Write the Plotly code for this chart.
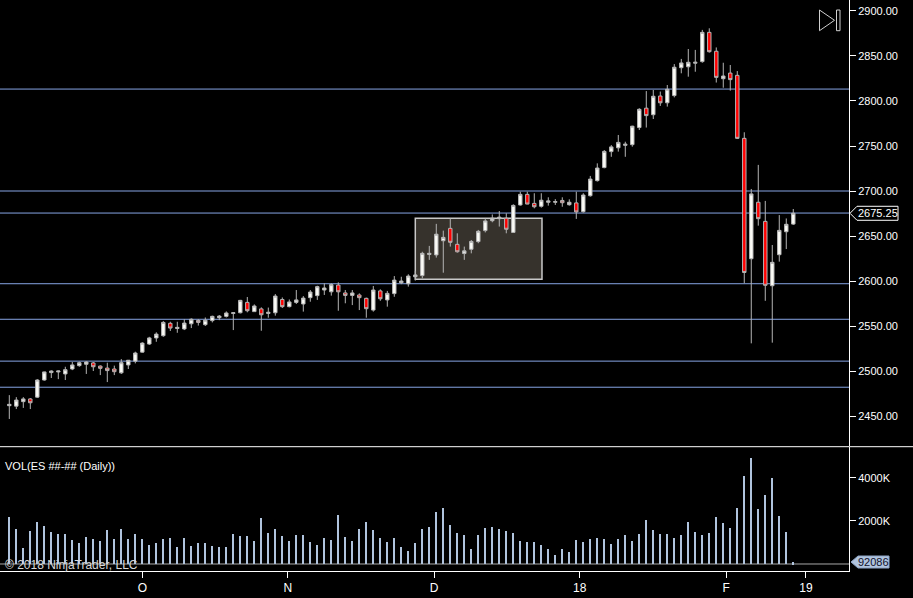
import plotly.graph_objects as go

# ES daily bars, Sep 2017 - Feb 2018
opens = [
    2461.5, 2461.0, 2466.0, 2469.0, 2471.0, 2490.0, 2498.25, 2499.0, 2496.75, 2502.25,
    2506.0, 2507.5, 2509.0, 2505.5, 2503.25, 2502.25, 2498.0, 2506.75, 2511.0, 2521.0,
    2530.0, 2536.75, 2539.25, 2553.0, 2547.25, 2546.75, 2552.5, 2556.25, 2551.5, 2556.0,
    2559.25, 2560.75, 2564.0, 2564.75, 2576.25, 2566.0, 2569.0, 2564.0, 2564.75, 2579.5,
    2571.5, 2576.25, 2574.5, 2581.5, 2583.75, 2590.0, 2588.0, 2595.5, 2586.75, 2584.0,
    2584.5, 2580.75, 2567.75, 2589.0, 2579.0, 2586.0, 2598.0, 2597.0, 2604.75, 2606.0,
    2629.5, 2629.0, 2644.75, 2658.5, 2640.75, 2630.5, 2635.25, 2643.75, 2656.0, 2667.0,
    2669.25, 2669.75, 2654.0, 2684.5, 2696.25, 2686.25, 2683.0, 2687.5, 2687.5, 2689.5,
    2684.75, 2686.75, 2677.0, 2694.75, 2711.5, 2726.0, 2743.75, 2748.0, 2750.75, 2751.5,
    2770.5, 2792.0, 2784.75, 2805.5, 2798.0, 2806.0, 2837.0, 2838.0, 2842.0, 2843.75,
    2876.25, 2855.25, 2824.75, 2831.0, 2828.5, 2758.5, 2624.75, 2687.5, 2666.25, 2594.75,
    2629.25, 2654.75, 2663.25,
]
highs = [
    2473.25, 2471.0, 2471.0, 2470.0, 2491.0, 2499.25, 2500.75, 2500.5, 2504.75, 2510.0,
    2510.5, 2511.0, 2510.0, 2506.25, 2509.25, 2506.0, 2513.25, 2512.25, 2521.5, 2532.0,
    2538.0, 2543.0, 2555.5, 2554.75, 2554.75, 2557.5, 2558.5, 2557.75, 2559.5, 2561.5,
    2562.25, 2566.25, 2565.5, 2579.0, 2582.25, 2574.0, 2570.75, 2570.5, 2585.5, 2581.75,
    2579.5, 2590.0, 2583.25, 2590.0, 2594.75, 2597.5, 2597.5, 2598.5, 2590.0, 2590.0,
    2586.25, 2581.5, 2594.5, 2590.75, 2589.0, 2605.5, 2604.75, 2607.5, 2611.0, 2632.5,
    2639.0, 2663.5, 2656.0, 2669.75, 2653.0, 2638.25, 2645.5, 2656.75, 2669.75, 2674.0,
    2677.75, 2675.25, 2685.25, 2699.25, 2699.25, 2697.5, 2697.5, 2693.0, 2691.0, 2693.0,
    2690.75, 2699.25, 2697.5, 2716.75, 2730.75, 2745.5, 2751.0, 2762.25, 2754.75, 2772.5,
    2792.0, 2811.0, 2812.25, 2810.5, 2817.75, 2841.0, 2846.75, 2857.75, 2856.75, 2879.0,
    2880.75, 2859.5, 2842.5, 2840.0, 2833.25, 2765.25, 2702.25, 2729.0, 2689.0, 2640.0,
    2673.25, 2669.5, 2680.0,
]
lows = [
    2446.75, 2457.75, 2459.0, 2457.75, 2470.0, 2489.25, 2492.25, 2491.0, 2490.0, 2501.0,
    2504.75, 2496.75, 2500.0, 2495.5, 2487.75, 2495.5, 2496.75, 2502.25, 2508.5, 2520.5,
    2529.0, 2532.5, 2538.0, 2544.5, 2542.5, 2545.5, 2547.75, 2550.5, 2550.0, 2554.0,
    2556.5, 2559.5, 2545.5, 2564.0, 2565.25, 2565.75, 2544.75, 2559.25, 2561.5, 2570.0,
    2570.75, 2574.5, 2566.0, 2577.0, 2579.0, 2584.5, 2583.75, 2567.0, 2575.25, 2573.25,
    2567.75, 2559.25, 2566.0, 2578.0, 2571.5, 2582.5, 2596.5, 2593.75, 2600.5, 2603.0,
    2623.5, 2626.0, 2609.25, 2638.25, 2631.5, 2623.5, 2630.75, 2642.0, 2654.0, 2665.25,
    2660.5, 2653.0, 2653.75, 2683.75, 2685.25, 2680.75, 2681.5, 2683.75, 2684.5, 2682.5,
    2683.75, 2669.0, 2676.0, 2693.75, 2710.5, 2725.25, 2738.0, 2743.75, 2738.0, 2749.25,
    2767.75, 2770.5, 2780.0, 2794.5, 2793.75, 2804.0, 2830.75, 2827.0, 2832.5, 2842.5,
    2853.75, 2820.5, 2814.75, 2811.5, 2757.75, 2597.5, 2530.75, 2661.5, 2578.0, 2531.5,
    2621.5, 2635.5, 2662.25,
]
closes = [
    2463.0, 2467.75, 2469.0, 2464.75, 2490.0, 2499.0, 2500.0, 2500.0, 2501.5, 2506.75,
    2509.25, 2510.0, 2504.75, 2503.0, 2500.5, 2499.25, 2509.25, 2512.0, 2520.0, 2531.0,
    2536.75, 2541.0, 2554.0, 2547.75, 2548.5, 2553.25, 2557.5, 2554.0, 2556.5, 2560.75,
    2561.0, 2564.5, 2564.75, 2578.5, 2567.0, 2572.25, 2562.5, 2565.25, 2583.25, 2571.5,
    2576.75, 2579.0, 2581.0, 2587.75, 2593.75, 2592.25, 2596.0, 2588.0, 2584.0, 2586.75,
    2581.5, 2569.25, 2590.0, 2580.25, 2586.25, 2601.0, 2600.0, 2605.5, 2606.75, 2630.75,
    2630.75, 2652.0, 2648.5, 2643.0, 2632.5, 2633.5, 2644.0, 2655.25, 2666.75, 2669.75,
    2671.0, 2657.5, 2684.0, 2696.25, 2685.5, 2682.5, 2689.75, 2689.0, 2688.25, 2687.0,
    2687.5, 2676.75, 2695.5, 2713.25, 2725.5, 2744.0, 2749.0, 2754.0, 2752.0, 2772.0,
    2790.75, 2783.75, 2805.25, 2798.0, 2813.0, 2837.5, 2842.25, 2843.0, 2843.0, 2876.25,
    2854.75, 2826.25, 2827.75, 2823.75, 2758.5, 2609.5, 2696.75, 2669.25, 2595.25, 2620.75,
    2656.25, 2663.0, 2675.25,
]
# daily volume in thousands of contracts
volume_k = [
    2186, 1628, 744, 1535, 1953, 1767, 1488, 1395, 1395, 1116,
    977, 1256, 1163, 1070, 1581, 1163, 1628, 1163, 1395, 1163,
    884, 977, 1163, 1209, 791, 1209, 837, 977, 977, 837,
    791, 791, 1395, 1302, 1302, 1070, 2139, 1442, 1628, 1302,
    1070, 1349, 1349, 1023, 884, 1209, 1116, 2279, 1256, 1070,
    1628, 1953, 1581, 1209, 1023, 1209, 791, 605, 977, 1628,
    1721, 2418, 2604, 1814, 1442, 1349, 698, 1349, 1674, 1721,
    1628, 1535, 1442, 1070, 1023, 1023, 884, 698, 419, 698,
    558, 1116, 1023, 1163, 1209, 1163, 930, 1163, 1349, 1070,
    1395, 2046, 1581, 1395, 1395, 1209, 1349, 1953, 1488, 1349,
    1442, 2186, 1907, 1674, 2604, 4092, 4929, 2558, 3209, 3999,
    2232, 1488, 92.086,
]
tick_labels = ["O", "N", "D", "18", "F", "19"]
tick_pos = [19, 39.8, 60.7, 81.5, 102.4, 113.8]
levels = [2813.25, 2700.0, 2675.5, 2597.0, 2557.5, 2511.0, 2482.0]
box_x = [58, 76.1]
box_y = [2602, 2669.6]

n = len(closes)
assert len(opens) == len(highs) == len(lows) == len(volume_k) == n
bars = list(range(n))

FONT = "Liberation Sans"
W, H = 913, 598
PLOT_W, PLOT_H = 849, 571          # plot area in px (right axis + x axis outside)
PRICE_RANGE = [2416.7, 2912.2]
PRICE_DOM = [0.2189, 1.0]
VOL_RANGE = [-326, 5442]
VOL_DOM = [0.0, 0.2172]

def px_x(px):
    return px / PLOT_W

def px_y(py):
    return (PLOT_H - py) / PLOT_H

def to_paper(v, rng, dom):
    return dom[0] + (v - rng[0]) / (rng[1] - rng[0]) * (dom[1] - dom[0])

fig = go.Figure()

fig.add_trace(go.Candlestick(
    x=bars, open=opens, high=highs, low=lows, close=closes,
    increasing=dict(fillcolor="#fbfbf6", line=dict(color="#b4b4b4", width=1)),
    decreasing=dict(fillcolor="#ff0000", line=dict(color="#b4b4b4", width=1)),
    whiskerwidth=0, xaxis="x", yaxis="y", showlegend=False, hoverinfo="skip",
))

fig.add_trace(go.Bar(
    x=bars, y=volume_k, width=0.3, marker=dict(color="#b0c4de", line=dict(width=0)),
    xaxis="x", yaxis="y2", showlegend=False, hoverinfo="skip",
))

shapes = []
# user drawn horizontal lines
for lv in levels:
    shapes.append(dict(type="line", xref="paper", yref="y", x0=0, x1=1, y0=lv, y1=lv,
                       line=dict(color="#86a4e4", width=1), layer="below"))
# region rectangle
shapes.append(dict(type="rect", xref="x", yref="y", x0=box_x[0], x1=box_x[1],
                   y0=box_y[0], y1=box_y[1], fillcolor="#36322c",
                   line=dict(color="#c8c8c8", width=1.5), layer="below"))
# volume zero line
shapes.append(dict(type="line", xref="paper", yref="y2", x0=0, x1=1, y0=0, y1=0,
                   line=dict(color="#a8a8a8", width=1), layer="below"))
# panel separator
shapes.append(dict(type="line", xref="paper", yref="paper", x0=0, x1=W / PLOT_W,
                   y0=px_y(446.7), y1=px_y(446.7), line=dict(color="white", width=1)))

# last price marker
lp = to_paper(closes[-1], PRICE_RANGE, PRICE_DOM)
hh = 7 / PLOT_H
shapes.append(dict(type="path", xref="paper", yref="paper",
                   path=(f"M {px_x(850)},{lp} L {px_x(857)},{lp + hh} L {px_x(898)},{lp + hh} "
                         f"L {px_x(898)},{lp - hh} L {px_x(857)},{lp - hh} Z"),
                   fillcolor="black", line=dict(color="white", width=1)))
# last volume marker
lv_p = to_paper(volume_k[-1], VOL_RANGE, VOL_DOM)
hv = 6 / PLOT_H
shapes.append(dict(type="path", xref="paper", yref="paper",
                   path=(f"M {px_x(851)},{lv_p} L {px_x(858)},{lv_p + hv} L {px_x(889)},{lv_p + hv} "
                         f"L {px_x(889)},{lv_p - hv} L {px_x(858)},{lv_p - hv} Z"),
                   fillcolor="#b0c4de", line=dict(color="#8ea4c4", width=1)))
# scroll-to-end icon
shapes.append(dict(type="path", xref="paper", yref="paper",
                   path=(f"M {px_x(819.5)},{px_y(10)} L {px_x(834.5)},{px_y(20.3)} "
                         f"L {px_x(819.5)},{px_y(30.7)} Z"),
                   line=dict(color="#d0d0d0", width=1)))
shapes.append(dict(type="rect", xref="paper", yref="paper",
                   x0=px_x(836.5), x1=px_x(840), y0=px_y(30.7), y1=px_y(10),
                   line=dict(color="#d0d0d0", width=1)))

annotations = [
    dict(xref="paper", yref="paper", x=px_x(877.5), y=lp, text=f"{closes[-1]:.2f}",
         showarrow=False, xanchor="center", yanchor="middle",
         font=dict(family=FONT, size=11, color="white")),
    dict(xref="paper", yref="paper", x=px_x(873.5), y=lv_p, text=f"{volume_k[-1] * 1000:.0f}",
         showarrow=False, xanchor="center", yanchor="middle",
         font=dict(family=FONT, size=11, color="#10102a")),
    dict(xref="paper", yref="paper", x=px_x(3), y=px_y(466), text="VOL(ES ##-## (Daily))",
         showarrow=False, xanchor="left", yanchor="middle",
         font=dict(family=FONT, size=11, color="white")),
    dict(xref="paper", yref="paper", x=px_x(3), y=px_y(565), text="© 2018 NinjaTrader, LLC",
         showarrow=False, xanchor="left", yanchor="middle",
         font=dict(family=FONT, size=12, color="#d8d8d8")),
]

fig.update_layout(
    width=W, height=H,
    margin=dict(l=0, r=W - PLOT_W, t=0, b=H - PLOT_H),
    paper_bgcolor="black", plot_bgcolor="black",
    showlegend=False, bargap=0,
    font=dict(family=FONT, size=11, color="white"),
    xaxis=dict(
        range=[-1.33, 119.96], anchor="y2", rangeslider=dict(visible=False),
        showgrid=False, zeroline=False, showline=True, linecolor="white", linewidth=1,
        ticks="outside", ticklen=6, tickcolor="white",
        tickvals=tick_pos, ticktext=tick_labels,
        tickfont=dict(family=FONT, size=12, color="white"),
    ),
    yaxis=dict(
        domain=PRICE_DOM, range=PRICE_RANGE, side="right", anchor="x",
        showgrid=False, zeroline=False, showline=True, linecolor="white", linewidth=1,
        ticks="outside", ticklen=6, tickcolor="white",
        tick0=2450, dtick=50, tickformat=".2f",
        tickfont=dict(family=FONT, size=11, color="white"),
    ),
    yaxis2=dict(
        domain=VOL_DOM, range=VOL_RANGE, side="right", anchor="x",
        showgrid=False, zeroline=False, showline=True, linecolor="white", linewidth=1,
        ticks="outside", ticklen=6, tickcolor="white",
        tickvals=[2000, 4000], ticktext=["2000K", "4000K"],
        tickfont=dict(family=FONT, size=11, color="white"),
    ),
    shapes=shapes,
    annotations=annotations,
)

# the page has a default 8px body margin; drop it so the figure fills the window
fig.write_html("out.html", config={"displayModeBar": False},
               post_script="document.body.style.margin='0';document.body.style.background='black';")
